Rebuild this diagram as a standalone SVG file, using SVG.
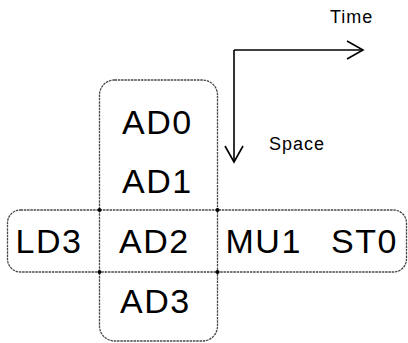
<svg xmlns="http://www.w3.org/2000/svg" width="408" height="343" viewBox="0 0 408 343">
<defs>
<style>
.box{fill:none;stroke:#4a4a4a;stroke-width:1.3;stroke-dasharray:2.5 0.8}
.lbl{font-family:"Liberation Sans",Arial,sans-serif;font-size:34px;fill:#000;letter-spacing:1.5px}
.axl{font-family:"Liberation Sans",Arial,sans-serif;font-size:18px;fill:#000;letter-spacing:1px}
.ax{fill:none;stroke:#000;stroke-width:1.6}
.dot{fill:#000}
</style>
<marker id="chev" markerUnits="userSpaceOnUse" markerWidth="20" markerHeight="22" viewBox="-18 -11 20 22" refX="0" refY="0" orient="auto">
<path d="M-16,-9 L0,0 L-16,9" fill="none" stroke="#000" stroke-width="1.6"/>
</marker>
</defs>
<rect width="408" height="343" fill="#fff"/>
<g id="column-group">
<rect class="box" x="99.5" y="80" width="118" height="261" rx="15"/>
</g>
<g id="row-group">
<rect class="box" x="7.5" y="210" width="399" height="62" rx="13"/>
</g>
<g id="junctions">
<circle class="dot" cx="99.5" cy="210" r="2"/>
<circle class="dot" cx="217.5" cy="210" r="2"/>
<circle class="dot" cx="99.5" cy="272" r="2"/>
<circle class="dot" cx="217.5" cy="272" r="2"/>
</g>
<g id="AD0"><text class="lbl" x="122" y="134">AD0</text></g>
<g id="AD1"><text class="lbl" x="122" y="193">AD1</text></g>
<g id="AD2"><text class="lbl" x="119" y="253">AD2</text></g>
<g id="AD3"><text class="lbl" x="120" y="313">AD3</text></g>
<g id="LD3"><text class="lbl" x="15.5" y="253">LD3</text></g>
<g id="MU1"><text class="lbl" x="225.5" y="253">MU1</text></g>
<g id="ST0"><text class="lbl" x="331" y="253">ST0</text></g>
<g id="connectors">
<path class="ax" d="M234,50 H363" marker-end="url(#chev)"/>
<path class="ax" d="M234,50 V162" marker-end="url(#chev)"/>
</g>
<g id="Time"><text class="axl" x="330" y="23">Time</text></g>
<g id="Space"><text class="axl" x="269" y="150">Space</text></g>
</svg>
